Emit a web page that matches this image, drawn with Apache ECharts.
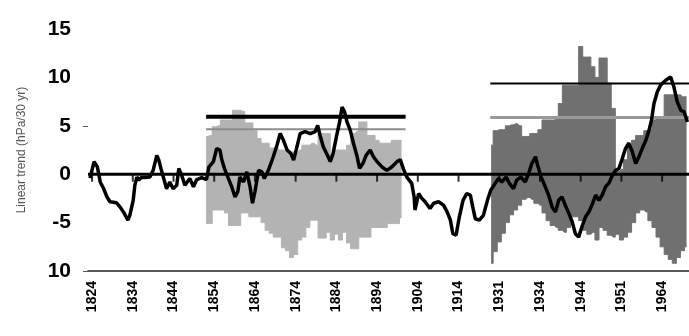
<!DOCTYPE html>
<html>
<head>
<meta charset="utf-8">
<script src="https://cdn.jsdelivr.net/npm/echarts@6/dist/echarts.min.js"></script>
<style>
  html, body { margin: 0; padding: 0; background: #fff; }
  #chart { width: 689px; height: 336px; }
</style>
</head>
<body>
<div id="chart"></div>
<script>
// running 30-yr linear trend (black line)
const trendYears = [1823.5, 1824.5, 1825.3, 1826.0, 1826.8, 1827.6, 1828.4, 1830.0, 1830.9, 1831.7,
  1832.8, 1833.3, 1834.1, 1834.5, 1835.0, 1835.5, 1836.1, 1836.9, 1838.2, 1839.0,
  1839.9, 1840.4, 1840.9, 1841.7, 1842.3, 1843.1, 1843.9, 1844.8, 1845.3, 1846.0,
  1846.8, 1848.0, 1848.9, 1849.7, 1850.9, 1852.1, 1852.7, 1853.8, 1854.6, 1855.4,
  1855.8, 1856.5, 1857.5, 1858.3, 1859.1, 1859.8, 1860.3, 1861.2, 1862.0, 1862.8,
  1863.4, 1864.0, 1864.9, 1865.7, 1866.3, 1867.3, 1868.5, 1869.4, 1870.2, 1871.0,
  1871.9, 1872.8, 1873.5, 1874.2, 1875.1, 1876.3, 1877.6, 1878.8, 1879.4, 1880.0,
  1880.8, 1881.8, 1882.5, 1883.2, 1884.0, 1884.8, 1885.4, 1886.0, 1886.6, 1887.4,
  1888.2, 1889.1, 1889.7, 1890.5, 1891.3, 1892.3, 1893.1, 1894.0, 1895.2, 1896.4,
  1897.6, 1898.9, 1899.7, 1900.5, 1901.3, 1902.5, 1903.1, 1903.3, 1904.2, 1905.0,
  1905.8, 1907.0, 1907.9, 1909.1, 1910.3, 1911.2, 1912.0, 1912.6, 1913.4, 1914.2,
  1915.1, 1916.0, 1916.9, 1917.5, 1918.1, 1919.1, 1920.1, 1921.1, 1921.9, 1923.0,
  1923.8, 1924.6, 1925.7, 1926.5, 1927.5, 1928.3, 1929.3, 1930.4, 1931.2, 1932.0,
  1932.9, 1933.4, 1934.3, 1935.3, 1936.1, 1937.0, 1937.8, 1938.6, 1939.4, 1940.2,
  1941.1, 1941.9, 1942.7, 1943.5, 1944.4, 1945.2, 1946.0, 1946.9, 1947.7, 1948.5,
  1949.3, 1950.1, 1950.9, 1951.8, 1952.6, 1953.4, 1954.2, 1955.0, 1955.8, 1956.7,
  1957.5, 1958.3, 1959.1, 1960.0, 1960.8, 1961.4, 1962.0, 1962.8, 1963.6, 1964.9,
  1966.1, 1966.9, 1967.7, 1968.6, 1969.4, 1970.2];
const trendValues = [-0.4, 1.3, 0.75, -0.8, -1.45, -2.3, -2.85, -2.95, -3.4, -3.9,
  -4.75, -4.2, -2.7, -1.15, -0.3, -0.6, -0.35, -0.35, -0.3, 0.4,
  1.95, 1.45, 0.6, -0.6, -1.5, -0.8, -1.5, -1.15, 0.6, -0.1,
  -1.15, -0.45, -1.3, -0.55, -0.35, -0.55, 0.75, 1.3, 2.65, 2.5,
  1.6, 0.6, -0.45, -1.3, -2.35, -1.8, -0.3, -0.8, 0.25, -1.3,
  -3.0, -1.8, 0.4, 0.25, -0.45, 0.4, 1.8, 3.0, 4.2, 3.5,
  2.5, 2.15, 1.45, 2.65, 4.2, 4.4, 4.2, 4.4, 5.05, 4.0,
  2.8, 1.95, 1.3, 2.15, 3.85, 5.4, 6.95, 6.45, 5.4, 4.55,
  3.2, 1.8, 0.6, 1.1, 1.95, 2.5, 1.8, 1.3, 0.75, 0.4,
  0.75, 1.3, 1.5, 0.5, -0.3, -0.95, -2.35, -3.7, -2.0, -2.5,
  -2.85, -3.55, -3.0, -2.85, -3.2, -3.9, -4.75, -6.15, -6.3, -4.4,
  -2.7, -2.0, -2.15, -3.4, -4.6, -4.75, -4.25, -2.7, -1.65, -0.95,
  -0.45, -0.8, -0.3, -0.95, -1.5, -0.6, -0.3, -0.8, 0.05, 1.1,
  1.8, 0.95, -0.3, -1.3, -2.15, -3.4, -3.9, -2.7, -2.35, -3.2,
  -4.05, -4.9, -6.15, -6.5, -5.3, -4.4, -3.9, -3.05, -2.15, -2.7,
  -2.15, -1.3, -0.95, -0.1, 0.4, 0.6, 1.6, 2.65, 3.2, 2.3,
  1.1, 1.8, 2.65, 3.5, 4.55, 5.6, 7.3, 8.5, 9.2, 9.7,
  10.05, 9.0, 7.5, 6.6, 6.45, 5.4];

// light grey envelope, 1852-1900
const lightYears = [1852, 1853, 1854, 1855, 1856, 1857, 1858, 1859, 1860, 1861,
  1862, 1863, 1864, 1865, 1866, 1867, 1868, 1869, 1870, 1871,
  1872, 1873, 1874, 1875, 1876, 1877, 1878, 1879, 1880, 1881,
  1882, 1883, 1884, 1885, 1886, 1887, 1888, 1889, 1890, 1891,
  1892, 1893, 1894, 1895, 1896, 1897, 1898, 1899, 1900];
const lightUpper = [3.9, 4.0, 4.9, 5.0, 5.6, 5.6, 5.6, 6.6, 6.6, 6.5,
  5.3, 5.3, 4.5, 3.7, 3.2, 3.2, 2.7, 2.7, 2.5, 2.5,
  2.3, 2.3, 2.3, 2.5, 3.0, 3.0, 3.2, 3.0, 4.2, 4.2,
  4.2, 2.0, 2.5, 2.5, 2.5, 3.0, 4.2, 4.4, 5.4, 5.4,
  4.0, 4.0, 3.5, 3.2, 3.2, 3.2, 3.5, 3.5, 3.5];
const lightLower = [-5.1, -5.1, -3.7, -3.7, -3.7, -4.0, -5.3, -5.3, -5.3, -4.0,
  -4.0, -4.4, -4.4, -4.4, -5.0, -5.8, -6.1, -6.5, -6.5, -7.6,
  -7.9, -8.6, -8.3, -6.8, -6.5, -5.5, -4.75, -4.75, -6.6, -6.6,
  -6.0, -6.8, -6.2, -6.8, -6.0, -7.1, -7.7, -7.7, -6.5, -6.5,
  -6.5, -5.5, -5.5, -5.5, -5.5, -5.1, -5.1, -5.1, -4.5];

// dark grey envelope, 1922-1970
const darkYears = [1922, 1923, 1924, 1925, 1926, 1927, 1928, 1929, 1930, 1931,
  1932, 1933, 1934, 1935, 1936, 1937, 1938, 1939, 1940, 1941,
  1942, 1943, 1944, 1945, 1946, 1947, 1948, 1949, 1950, 1951,
  1952, 1953, 1954, 1955, 1956, 1957, 1958, 1959, 1960, 1961,
  1962, 1963, 1964, 1965, 1966, 1967, 1968, 1969, 1970];
const darkUpper = [3.0, 4.5, 4.6, 4.6, 5.0, 5.1, 5.2, 5.0, 3.9, 3.9,
  4.2, 4.2, 4.6, 5.6, 5.6, 5.6, 5.7, 7.3, 9.2, 9.2,
  9.2, 9.2, 13.2, 12.1, 12.1, 11.1, 10.0, 12.0, 12.0, 9.4,
  6.8, 0.3, 0.5, 1.5, 3.0, 3.5, 4.0, 4.0, 4.5, 4.6,
  5.6, 5.9, 5.9, 8.2, 8.2, 8.2, 8.2, 8.0, 8.0];
const darkLower = [-9.2, -8.0, -7.0, -6.1, -5.0, -4.2, -3.7, -3.2, -2.6, -2.4,
  -2.6, -3.0, -3.2, -4.0, -4.8, -5.3, -5.5, -5.8, -6.0, -5.5,
  -4.4, -4.4, -4.8, -5.8, -6.2, -6.0, -6.8, -5.5, -5.8, -6.3,
  -6.5, -6.2, -6.8, -6.5, -6.0, -5.0, -4.0, -3.7, -3.9, -4.8,
  -5.5, -6.5, -7.5, -8.3, -8.8, -9.2, -8.6, -7.9, -7.5];

// horizontal reference levels over each window
const lightSpan = [1852, 1901];
const lightLevels = [5.93, 4.65];
const darkSpan = [1921.8, 1970.6];
const darkLevels = [9.38, 5.86];
const fullSpan = [1823, 1970.6];

const tickYears = [1824, 1834, 1844, 1854, 1864, 1874, 1884, 1894, 1904, 1914, 1924, 1934, 1944, 1954, 1964];
const tickLabels = ['1824', '1834', '1844', '1854', '1864', '1874', '1884', '1894', '1904', '1914', '1931', '1934', '1944', '1951', '1964'];
const yTicks = [-10, -5, 0, 5, 10, 15];
const yTickLabels = ['10', '-5', '0', '5', '10', '15'];

const zip = (xs, ys) => xs.map((x, i) => [x, ys[i]]);
const flat = (span, v) => [[span[0], v], [span[1], v]];

const band = (xs, ys, color) => ({
  type: 'line',
  data: zip(xs, ys),
  step: 'middle',
  symbol: 'none',
  lineStyle: { color: color, width: 1 },
  areaStyle: { color: color, opacity: 1 },
  z: 1,
});
const level = (span, v, color, width) => ({
  type: 'line',
  data: flat(span, v),
  symbol: 'none',
  lineStyle: { color: color, width: width },
  z: 3,
});

const chart = echarts.init(document.getElementById('chart'));
chart.setOption({
  animation: false,
  grid: { left: 88, right: 0, top: 29, bottom: 65 },
  xAxis: {
    type: 'value',
    min: 1823,
    max: 1970.6,
    position: 'bottom',
    axisLine: { onZero: false, lineStyle: { color: '#222', width: 1.5 } },
    axisTick: { show: false },
    splitLine: { show: false },
    axisLabel: {
      customValues: tickYears,
      rotate: 90,
      margin: 10,
      fontSize: 14,
      fontWeight: 'bold',
      color: '#000',
      formatter: (v) => tickLabels[tickYears.indexOf(v)] || '',
    },
  },
  yAxis: {
    type: 'value',
    min: -10,
    max: 15,
    interval: 5,
    name: 'Linear trend (hPa/30 yr)',
    nameLocation: 'middle',
    nameGap: 60,
    axisLine: { show: false },
    axisTick: { show: true, customValues: [-10, 5], length: 5 },
    splitLine: { show: false },
    axisLabel: {
      margin: 17,
      fontSize: 21,
      fontWeight: 'bold',
      color: '#000',
      formatter: (v) => yTickLabels[yTicks.indexOf(v)],
    },
  },
  series: [
    band(lightYears, lightUpper, '#b3b3b3'),
    band(lightYears, lightLower, '#b3b3b3'),
    band(darkYears, darkUpper, '#707070'),
    band(darkYears, darkLower, '#707070'),
    level(lightSpan, lightLevels[0], '#000', 4),
    level(lightSpan, lightLevels[1], '#8c8c8c', 2),
    level(darkSpan, darkLevels[0], '#000', 2),
    level(darkSpan, darkLevels[1], '#999', 3),
    // zero line and its decade ticks
    Object.assign(level(fullSpan, 0, '#000', 3), { z: 5 }),
    {
      type: 'scatter',
      data: tickYears.map((y) => [y, 0]),
      symbol: 'rect',
      symbolSize: [2, 7],
      symbolOffset: [0, 4],
      itemStyle: { color: '#000' },
      z: 5,
    },
    {
      type: 'line',
      data: zip(trendYears, trendValues),
      symbol: 'none',
      lineStyle: { color: '#000', width: 3.5 },
      z: 10,
    },
  ],
});
</script>
</body>
</html>
